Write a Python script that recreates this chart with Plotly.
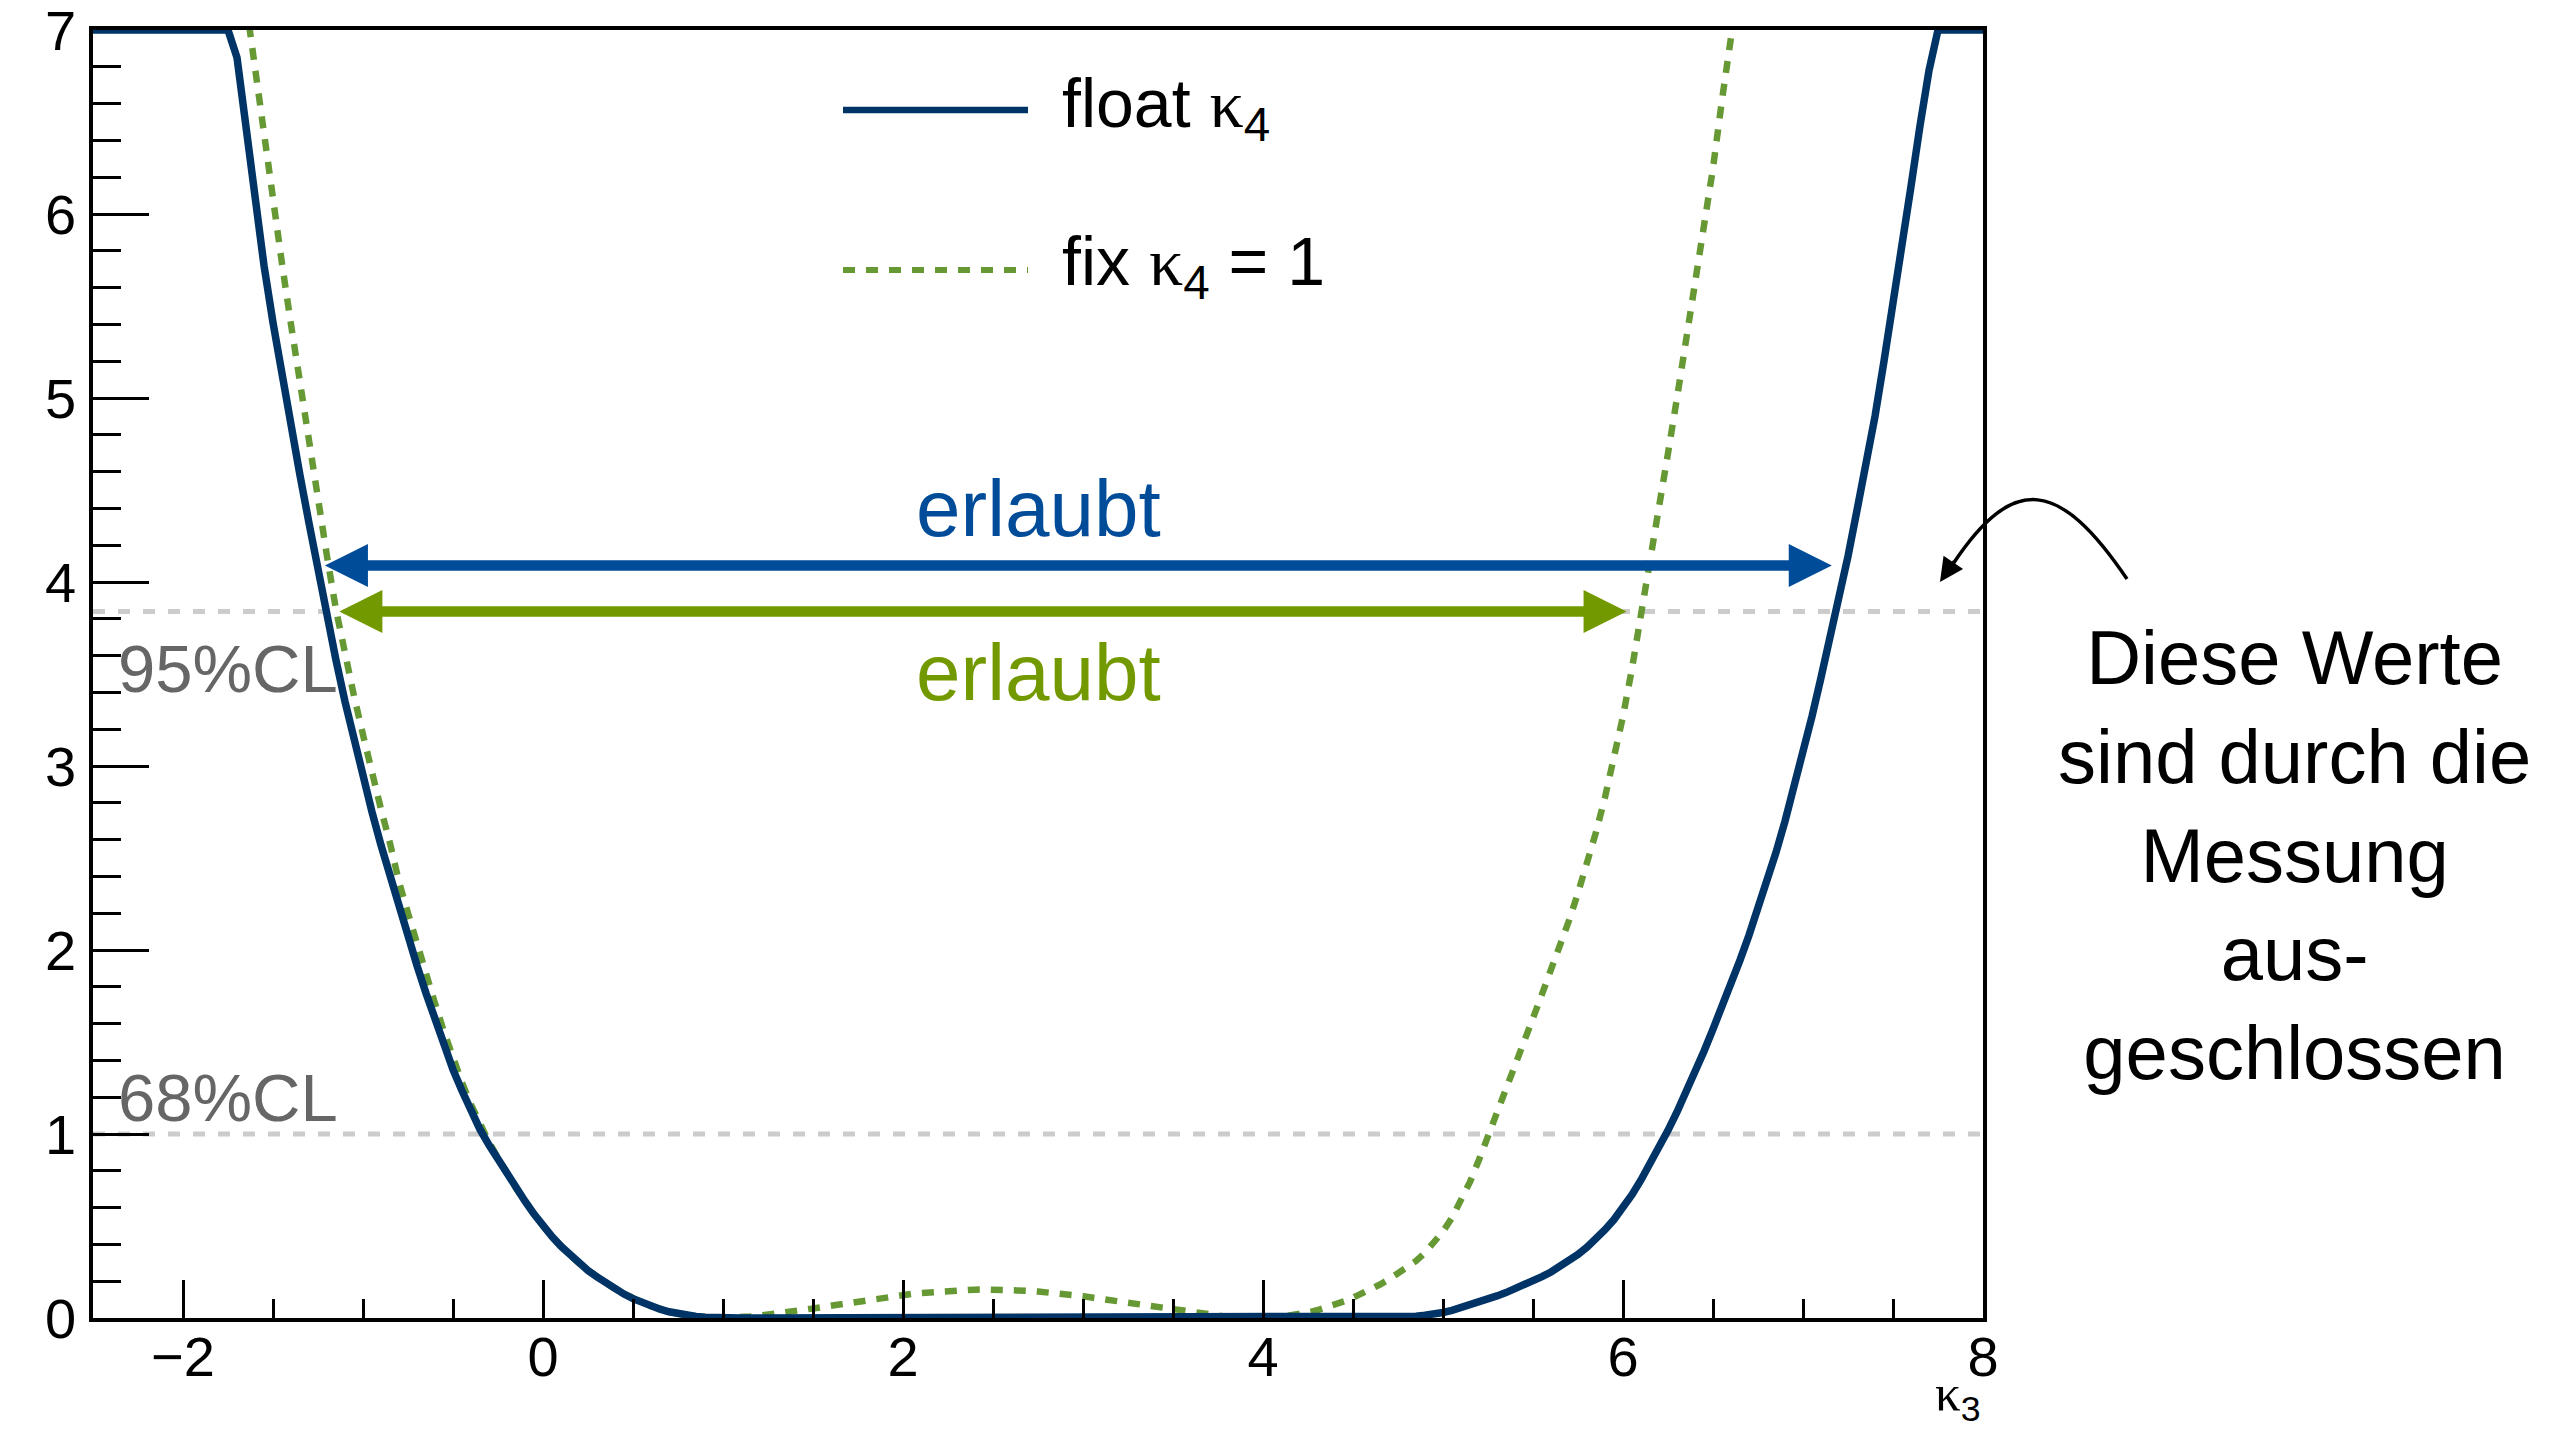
import plotly.graph_objects as go

# ------------------------------------------------------------------ data
KAPPA3_MIN = -2.5      # lower edge of the kappa3 scan
BIN_WIDTH = 0.05       # scan step in kappa3
N_POINTS = 211
kappa3 = [round(KAPPA3_MIN + i * BIN_WIDTH, 2) for i in range(N_POINTS)]

# Delta(-2 lnL) with kappa4 floating (values above the frame are drawn at the top, 7)
dnll_float_k4 = (
    [7.0] * 16                                                   # -2.50 .. -1.75
    + [6.85, 6.45, 6.07, 5.72, 5.41, 5.12, 4.85, 4.58, 4.32, 4.06,   # -1.70 .. -1.25
       3.81, 3.575, 3.35, 3.14, 2.94, 2.75, 2.57, 2.40, 2.23, 2.07,  # -1.20 .. -0.75
       1.915, 1.765, 1.62, 1.48, 1.35, 1.235, 1.125, 1.025, 0.94, 0.86,  # -0.70 .. -0.25
       0.78, 0.705, 0.635, 0.565, 0.50, 0.443, 0.39, 0.342, 0.298, 0.258,  # -0.20 .. 0.25
       0.223, 0.189, 0.158, 0.13, 0.105, 0.083, 0.064, 0.048, 0.034, 0.023,  # 0.30 .. 0.75
       0.014, 0.008, 0.004, 0.001]                                    # 0.80 .. 0.95
    + [0.0] * 75                                                 # 1.00 .. 4.70
    + [0.003, 0.006, 0.01, 0.015, 0.02, 0.03, 0.042, 0.056, 0.072, 0.088,   # 4.75 .. 5.20
       0.103, 0.12, 0.138, 0.157, 0.178, 0.2, 0.225, 0.25, 0.28, 0.31,      # 5.25 .. 5.70
       0.345, 0.385, 0.43, 0.48, 0.535, 0.60, 0.67, 0.75, 0.835, 0.925,     # 5.75 .. 6.20
       1.02, 1.12, 1.225, 1.335, 1.45, 1.57, 1.69, 1.815, 1.945, 2.08,      # 6.25 .. 6.70
       2.22, 2.37, 2.53, 2.70, 2.88, 3.07, 3.27, 3.48, 3.69, 3.91,          # 6.75 .. 7.20
       4.14, 4.39, 4.64, 4.90, 5.20, 5.50, 5.82, 6.15, 6.48, 6.78]          # 7.25 .. 7.70
    + [7.0] * 6                                                  # 7.75 .. 8.00
)

# Delta(-2 lnL) with kappa4 fixed to 1
dnll_fix_k4 = (
    [None] * 17                                                  # -2.50 .. -1.70
    + [7.15, 6.78, 6.42, 6.07, 5.73, 5.40, 5.07, 4.75, 4.44, 4.14,   # -1.65 .. -1.20
       3.85, 3.60, 3.38, 3.17, 2.96, 2.765, 2.58, 2.37, 2.20, 2.03,  # -1.15 .. -0.70
       1.87, 1.71, 1.555, 1.41, 1.28, 1.16, 1.055, 0.955, 0.87, 0.785,  # -0.65 .. -0.20
       0.705, 0.635, 0.565, 0.50]                                    # -0.15 .. 0.00
    + [0.443, 0.39, 0.342, 0.298, 0.258, 0.223, 0.189, 0.158, 0.13, 0.105,  # 0.05 .. 0.50
       0.083, 0.064, 0.048, 0.034, 0.023, 0.014, 0.008, 0.004, 0.001]       # 0.55 .. 0.95
    + [0.0]                                                      # 1.00
    + [0.001, 0.004, 0.008, 0.013, 0.018, 0.024, 0.030, 0.038, 0.045, 0.052,  # 1.05 .. 1.50
       0.060, 0.067, 0.075, 0.082, 0.090, 0.098, 0.105, 0.112, 0.119, 0.125,  # 1.55 .. 2.00
       0.131, 0.136, 0.140, 0.144, 0.148, 0.151, 0.153, 0.154, 0.155, 0.155,  # 2.05 .. 2.50
       0.154, 0.153, 0.151, 0.148, 0.144, 0.140, 0.135, 0.130, 0.124, 0.118,  # 2.55 .. 3.00
       0.111, 0.104, 0.097, 0.090, 0.082, 0.075, 0.067, 0.060, 0.052, 0.044,  # 3.05 .. 3.50
       0.036, 0.029, 0.022, 0.016, 0.011, 0.007, 0.004, 0.002, 0.001]         # 3.55 .. 3.95
    + [0.0]                                                      # 4.00
    + [0.002, 0.006, 0.012, 0.02, 0.03, 0.042, 0.056, 0.072, 0.09, 0.11,      # 4.05 .. 4.50
       0.132, 0.156, 0.182, 0.21, 0.24, 0.273, 0.31, 0.355, 0.41, 0.47,       # 4.55 .. 5.00
       0.545, 0.635, 0.74, 0.86, 0.985, 1.11, 1.24, 1.37, 1.50, 1.63,         # 5.05 .. 5.50
       1.76, 1.89, 2.02, 2.16, 2.31, 2.47, 2.64, 2.83, 3.04, 3.27,            # 5.55 .. 6.00
       3.53, 3.81, 4.10, 4.40, 4.70, 5.00, 5.31, 5.62, 5.92, 6.25,            # 6.05 .. 6.50
       6.62, 6.95, 7.3]                                                        # 6.55 .. 6.65
    + [None] * 27                                                # 6.70 .. 8.00
)

cl_levels = [1.0, 3.84]
cl_labels = ["68%CL", "95%CL"]
cl_label_y = [1.2, 3.53]

allowed_float_k4 = [-1.22, 7.16]     # 95% CL interval, kappa4 floating
allowed_fix_k4 = [-1.14, 6.02]       # 95% CL interval, kappa4 = 1
arrow_y_float = 4.09
arrow_y_fix = 3.84

x_ticks = [-2, 0, 2, 4, 6, 8]
y_ticks = [0, 1, 2, 3, 4, 5, 6, 7]

# ------------------------------------------------------------------ style
W, H = 2566, 1432
ML, MR, MT, MB = 93, 583, 30, 114
PW, PH = W - ML - MR, H - MT - MB
FONT = "Liberation Sans, Arial, Helvetica, sans-serif"
SERIF = "Liberation Serif"
NAVY = "#003366"
LEAF = "#669933"
BLUE = "#004c99"
OLIVE = "#739900"
GRAY_LINE = "#cccccc"
GRAY_TEXT = "#666666"


def px(xp, yp):
    """pixel -> paper coordinates"""
    return (xp - ML) / PW, (H - MB - yp) / PH


def kappa(sym_sub):
    return f'<span style="font-family:{SERIF}">κ</span><sub>{sym_sub}</sub>'


fig = go.Figure()

for lvl in cl_levels:
    fig.add_trace(go.Scatter(
        x=[KAPPA3_MIN, 8.0], y=[lvl, lvl], mode="lines",
        line=dict(color=GRAY_LINE, width=5, dash="12px,13px"),
        hoverinfo="skip", showlegend=False))

fig.add_trace(go.Scatter(
    x=kappa3, y=dnll_fix_k4, mode="lines", name="fix κ4 = 1",
    line=dict(color=LEAF, width=6.5, dash="12px,11px"),
    connectgaps=False, showlegend=False))

fig.add_trace(go.Scatter(
    x=kappa3, y=dnll_float_k4, mode="lines", name="float κ4",
    line=dict(color=NAVY, width=7.5), showlegend=False))

annotations = []
shapes = []

# allowed-range arrows
for (lo, hi), yv, col in [(allowed_float_k4, arrow_y_float, BLUE),
                          (allowed_fix_k4, arrow_y_fix, OLIVE)]:
    annotations.append(dict(
        x=hi, y=yv, ax=lo, ay=yv, xref="x", yref="y", axref="x", ayref="y",
        text="", showarrow=True, arrowside="end+start",
        arrowhead=2, startarrowhead=2, arrowsize=0.82, startarrowsize=0.82,
        arrowwidth=10.5, arrowcolor=col, standoff=0, startstandoff=0))

annotations.append(dict(x=2.75, y=4.40, xref="x", yref="y", text="erlaubt",
                        xanchor="center", yanchor="middle", showarrow=False,
                        font=dict(family=FONT, size=80, color=BLUE)))
annotations.append(dict(x=2.75, y=3.51, xref="x", yref="y", text="erlaubt",
                        xanchor="center", yanchor="middle", showarrow=False,
                        font=dict(family=FONT, size=80, color=OLIVE)))

for lab, ly in zip(cl_labels, cl_label_y):
    annotations.append(dict(x=-2.37, y=ly, xref="x", yref="y", text=lab,
                            xanchor="left", yanchor="middle", showarrow=False,
                            font=dict(family=FONT, size=67, color=GRAY_TEXT)))

# legend (drawn by hand, ROOT style: no box)
lx0, ly1 = px(843, 110)
lx1, ly2 = px(1028, 270)
shapes.append(dict(type="line", xref="paper", yref="paper", x0=lx0, x1=lx1, y0=ly1, y1=ly1,
                   line=dict(color=NAVY, width=6.5)))
shapes.append(dict(type="line", xref="paper", yref="paper", x0=lx0, x1=lx1, y0=ly2, y1=ly2,
                   line=dict(color=LEAF, width=6, dash="12px,11px")))
tx, ty1 = px(1060, 108)
_, ty2 = px(1060, 266)
annotations.append(dict(x=tx, y=ty1, xref="paper", yref="paper", xanchor="left",
                        yanchor="middle", text="float " + kappa("4"), showarrow=False,
                        font=dict(family=FONT, size=68, color="black")))
annotations.append(dict(x=tx, y=ty2, xref="paper", yref="paper", xanchor="left",
                        yanchor="middle", text="fix " + kappa("4") + " = 1", showarrow=False,
                        font=dict(family=FONT, size=68, color="black")))

# axis title
annotations.append(dict(x=1.0, y=px(0, 1431)[1], xref="paper", yref="paper",
                        xanchor="right", yanchor="bottom", text=kappa("3"),
                        showarrow=False, font=dict(family=FONT, size=51, color="black")))

# explanatory note on the right
nx, ny = px(2294, 855)
annotations.append(dict(x=nx, y=ny, xref="paper", yref="paper", align="center",
                        xanchor="center", yanchor="middle",
                        text="Diese Werte<br>sind durch die<br>Messung<br>aus-<br>geschlossen",
                        showarrow=False, font=dict(family=FONT, size=76, color="black")))

# curved pointer
p0 = px(2127, 579)
p1 = px(2060, 480)
p2 = px(2014, 472)
p3 = px(1953, 564)
shapes.append(dict(type="path", xref="paper", yref="paper",
                   path=f"M {p0[0]},{p0[1]} C {p1[0]},{p1[1]} {p2[0]},{p2[1]} {p3[0]},{p3[1]}",
                   line=dict(color="black", width=3.5)))
tip = px(1940, 582)
annotations.append(dict(x=tip[0], y=tip[1], xref="paper", yref="paper", ax=15, ay=-22,
                        text="", showarrow=True, arrowhead=2, arrowsize=1.35,
                        arrowwidth=3.5, arrowcolor="black", standoff=0))

axis_common = dict(showline=True, linecolor="black", linewidth=3.5, mirror=True,
                   showgrid=False, zeroline=False, ticks="inside", tickwidth=3,
                   tickcolor="black", automargin=False, ticklabeloverflow="allow",
                   tickfont=dict(family=FONT, size=56, color="black"))

fig.update_layout(
    template="none",
    width=W, height=H, autosize=False,
    margin=dict(l=ML, r=MR, t=MT, b=MB, pad=0),
    paper_bgcolor="white", plot_bgcolor="white",
    font=dict(family=FONT, color="black"),
    showlegend=False,
    xaxis=dict(range=[KAPPA3_MIN, 8.0], tickmode="array", tickvals=x_ticks,
               ticktext=["\u22122", "0", "2", "4", "6", "8"], ticklen=38,
               minor=dict(ticks="inside", ticklen=19, tickwidth=3, tickcolor="black",
                          dtick=0.5, tick0=0, showgrid=False),
               ticklabelstandoff=-13, **axis_common),
    yaxis=dict(range=[0, 7], tickmode="array", tickvals=y_ticks,
               ticktext=[str(v) for v in y_ticks], ticklen=56,
               minor=dict(ticks="inside", ticklen=28, tickwidth=3, tickcolor="black",
                          dtick=0.2, tick0=0, showgrid=False),
               ticklabelstandoff=2, **axis_common),
    annotations=annotations,
    shapes=shapes,
)

fig.write_html("out.html")
